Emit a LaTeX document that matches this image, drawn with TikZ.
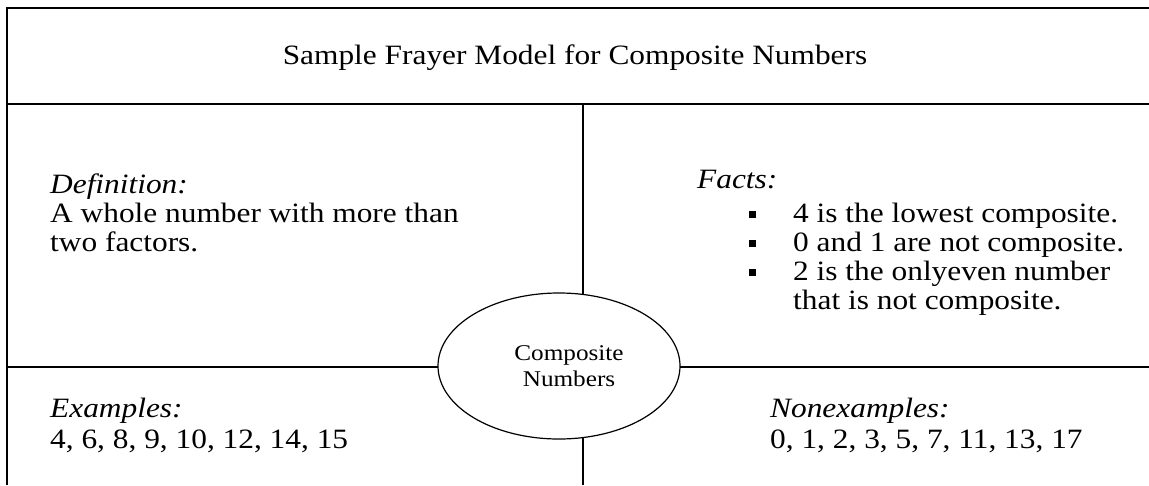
\documentclass[tikz,border=0pt]{standalone}
\usepackage{fontspec}
\setmainfont[FakeStretch=1.12]{Liberation Serif}
\usetikzlibrary{shapes.geometric}
\begin{document}
\begin{tikzpicture}[x=1pt,y=-1pt,
  txt/.style={anchor=base west,inner sep=0pt,font=\fontsize{28}{29}\selectfont},
  ttl/.style={anchor=base,inner sep=0pt,font=\fontsize{28}{29}\selectfont},
  bul/.style={fill=black,minimum size=7pt,inner sep=0pt},
  frame/.style={line width=2.2pt},
  inner/.style={line width=1.5pt},
  oval/.style={ellipse,draw,line width=1.2pt,fill=white,minimum width=242pt,minimum height=146pt,align=center,inner sep=0pt,font=\fontsize{22.5}{26}\selectfont}]
\path[use as bounding box] (0,0) rectangle (1149,485);
\fill[white] (0,0) rectangle (1149,485);
% frame
\coordinate (tl) at (7,8);
\coordinate (tr) at (1149,8);
\coordinate (hl) at (7,104);
\coordinate (hr) at (1149,104);
\coordinate (bl) at (7,485);
\coordinate (vt) at (583,104);
\coordinate (vb) at (583,485);
\coordinate (ml) at (7,367);
\coordinate (mr) at (1149,367);
\coordinate (cc) at (559,366);
\draw[frame] (tr) -- (tl) -- (bl);
\draw[frame] (hl) -- (hr);
\draw[inner] (vt) -- (vb);
\draw[inner] (ml) -- (mr);
\node[oval] (c) at (cc) {\hspace*{20pt}Composite\\\hspace*{20pt}Numbers};
% title
\node[ttl] (title) at (575,64) {Sample Frayer Model for Composite Numbers};
% definition
\node[txt] (d1) at (50,193) {\textit{Definition:}};
\node[txt] (d2) at (50,222) {A whole number with more than};
\node[txt] (d3) at (50,251) {two factors.};
% facts
\node[txt] (f0) at (697,188) {\textit{Facts:}};
\node[bul] (b1) at (752,214) {};
\node[bul] (b2) at (752,243) {};
\node[bul] (b3) at (752,272) {};
\node[txt] (f1) at (793,222) {4 is the lowest composite.};
\node[txt] (f2) at (793,251) {0 and 1 are not composite.};
\node[txt] (f3) at (793,280) {2 is the onlyeven number};
\node[txt] (f4) at (793,309) {that is not composite.};
% examples
\node[txt] (e1) at (50,417) {\textit{Examples:}};
\node[txt] (e2) at (50,448) {4, 6, 8, 9, 10, 12, 14, 15};
% nonexamples
\node[txt] (n1) at (770,417) {\textit{Nonexamples:}};
\node[txt] (n2) at (770,448) {0, 1, 2, 3, 5, 7, 11, 13, 17};
\end{tikzpicture}
\end{document}
